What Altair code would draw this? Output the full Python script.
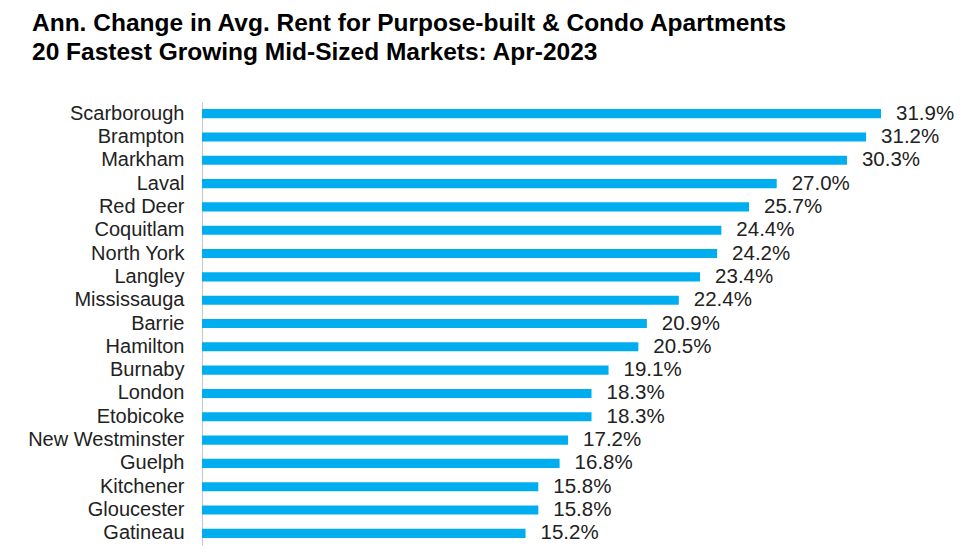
import altair as alt
import pandas as pd

markets = ["Scarborough", "Brampton", "Markham", "Laval", "Red Deer", "Coquitlam",
           "North York", "Langley", "Mississauga", "Barrie", "Hamilton", "Burnaby",
           "London", "Etobicoke", "New Westminster", "Guelph", "Kitchener",
           "Gloucester", "Gatineau"]
changes = [31.9, 31.2, 30.3, 27.0, 25.7, 24.4, 24.2, 23.4, 22.4, 20.9, 20.5, 19.1,
           18.3, 18.3, 17.2, 16.8, 15.8, 15.8, 15.2]

df = pd.DataFrame({"market": markets, "change": changes})
df["label"] = df["change"].map(lambda v: f"{v:.1f}%")

FONT = "Liberation Sans, Arial, sans-serif"

y_enc = alt.Y("market:N", sort=markets, title=None,
              scale=alt.Scale(paddingInner=0.61, paddingOuter=0.305),
              axis=alt.Axis(ticks=False, labelPadding=18, labelFontSize=20,
                            labelFont=FONT, labelColor="#222222",
                            domainColor="#c8c8c8", domainWidth=1, grid=False))
x_enc = alt.X("change:Q", title=None, scale=alt.Scale(domain=[0, 35], nice=False),
              axis=None)

bars = alt.Chart(df).mark_bar(color="#00AEEF").encode(x=x_enc, y=y_enc)
labels = alt.Chart(df).mark_text(align="left", baseline="middle", dx=15,
                                 fontSize=20.5, font=FONT, color="#222222").encode(
    x=x_enc, y=y_enc, text="label:N")

chart = (bars + labels).properties(
    width=745, height=443,
    padding={"left": 194, "top": 94, "right": 10, "bottom": 8},
    autosize=alt.AutoSizeParams(type="none"),
    title=alt.TitleParams(
        text=["Ann. Change in Avg. Rent for Purpose-built & Condo Apartments",
              "20 Fastest Growing Mid-Sized Markets: Apr-2023"],
        anchor="start", frame="group", dx=-170, fontSize=24.5, font=FONT,
        fontWeight="bold", color="#000000", lineHeight=28.5, offset=37),
).configure_view(stroke=None)

chart.save("out.html", embed_options={"renderer": "svg", "actions": False})
